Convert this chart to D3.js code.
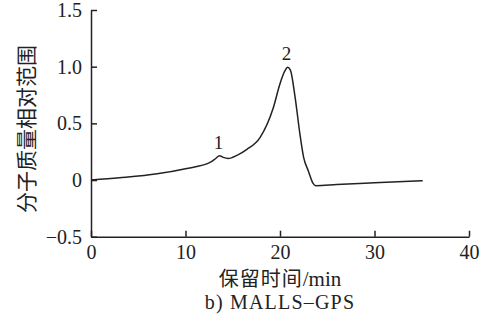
<!DOCTYPE html>
<html>
<head>
<meta charset="utf-8">
<script src="https://cdn.jsdelivr.net/npm/d3@7"></script>
<style>
  body { margin: 0; background: #fff; }
  svg text { fill: #222; }
</style>
</head>
<body>
<svg width="485" height="321"></svg>
<script>
// retention time (min) and relative molecular mass signal
const times = [0, 3, 7, 10, 12.6, 13.2, 13.6, 14.0, 14.5, 15.5, 16.5, 17.9, 19.3, 20.0, 20.5, 20.8, 21.1, 21.6, 22.1, 22.5, 23.0, 23.5, 23.8, 26, 30, 35.1];
const signal = [0, 0.02, 0.055, 0.1, 0.155, 0.19, 0.215, 0.2, 0.19, 0.22, 0.27, 0.376, 0.64, 0.85, 0.96, 0.995, 0.97, 0.73, 0.41, 0.2, 0.08, -0.03, -0.05, -0.04, -0.025, -0.007];
const xTicks = [0, 10, 20, 30, 40];
const yTicks = [-0.5, 0, 0.5, 1.0, 1.5];
const yTickLabels = ["\u22120.5", "0", "0.5", "1.0", "1.5"];
const peakLabels = [{ t: 13.6, v: 0.215, label: "1" }, { t: 20.8, v: 0.995, label: "2" }];

const $svg = d3.select("svg");
const x = d3.scaleLinear().domain([0, 40]).range([91, 469]);
const y = d3.scaleLinear().domain([-0.5, 1.5]).range([236.7, 10]);
const serif = "'Times New Roman', 'Liberation Serif', 'DejaVu Serif', serif";
const cjk = "'Noto Sans CJK SC', sans-serif";
const ink = "#222";

// x axis, ticks pointing up
const gx = $svg.append("g")
  .attr("transform", `translate(0,${y(-0.5)})`)
  .attr("font-family", null)
  .call(d3.axisBottom(x).tickValues(xTicks).tickSizeInner(-6).tickSizeOuter(0).tickPadding(8));
gx.attr("font-family", serif).attr("font-size", 20);
gx.select(".domain").attr("stroke", ink).attr("stroke-width", 1.5);
gx.selectAll(".tick line").attr("stroke", ink).attr("stroke-width", 1.5);
gx.selectAll(".tick text").style("font-family", serif).style("font-size", "20px");

// y axis, ticks pointing right
const gy = $svg.append("g")
  .attr("transform", `translate(${x(0)},0)`)
  .call(d3.axisLeft(y).tickValues(yTicks).tickFormat((d, i) => yTickLabels[i]).tickSizeInner(-6).tickSizeOuter(0).tickPadding(9));
gy.attr("font-family", serif).attr("font-size", 20);
gy.select(".domain").attr("stroke", ink).attr("stroke-width", 1.5);
gy.selectAll(".tick line").attr("stroke", ink).attr("stroke-width", 1.5);
gy.selectAll(".tick text").style("font-family", serif).style("font-size", "20px");

// curve
const line = d3.line()
  .x((d, i) => x(times[i]))
  .y(d => y(d))
  .curve(d3.curveMonotoneX);
$svg.append("path")
  .datum(signal)
  .attr("fill", "none")
  .attr("stroke", ink)
  .attr("stroke-width", 1.5)
  .attr("d", line);

// peak numbers
$svg.selectAll(".peak")
  .data(peakLabels)
  .enter()
  .append("text")
  .attr("class", "peak")
  .attr("x", d => x(d.t) - 1)
  .attr("y", d => y(d.v) - 7)
  .attr("text-anchor", "middle")
  .style("font-family", serif)
  .style("font-size", "19px")
  .text(d => d.label);

// axis titles
const xt = $svg.append("text")
  .attr("x", 280).attr("y", 286)
  .attr("text-anchor", "middle");
xt.append("tspan").style("font-family", cjk).style("font-size", "20px").style("letter-spacing", "1px").text("保留时间");
xt.append("tspan").style("font-family", serif).style("font-size", "21px").text("/min");

$svg.append("text")
  .attr("x", 280).attr("y", 309)
  .attr("text-anchor", "middle")
  .style("font-family", serif)
  .style("font-size", "20px")
  .style("letter-spacing", "1.2px")
  .text("b) MALLS\u2013GPS");

$svg.append("text")
  .attr("transform", "translate(34,129) rotate(-90)")
  .attr("text-anchor", "middle")
  .style("font-family", cjk)
  .style("font-size", "21px")
  .text("分子质量相对范围");
</script>
</body>
</html>
